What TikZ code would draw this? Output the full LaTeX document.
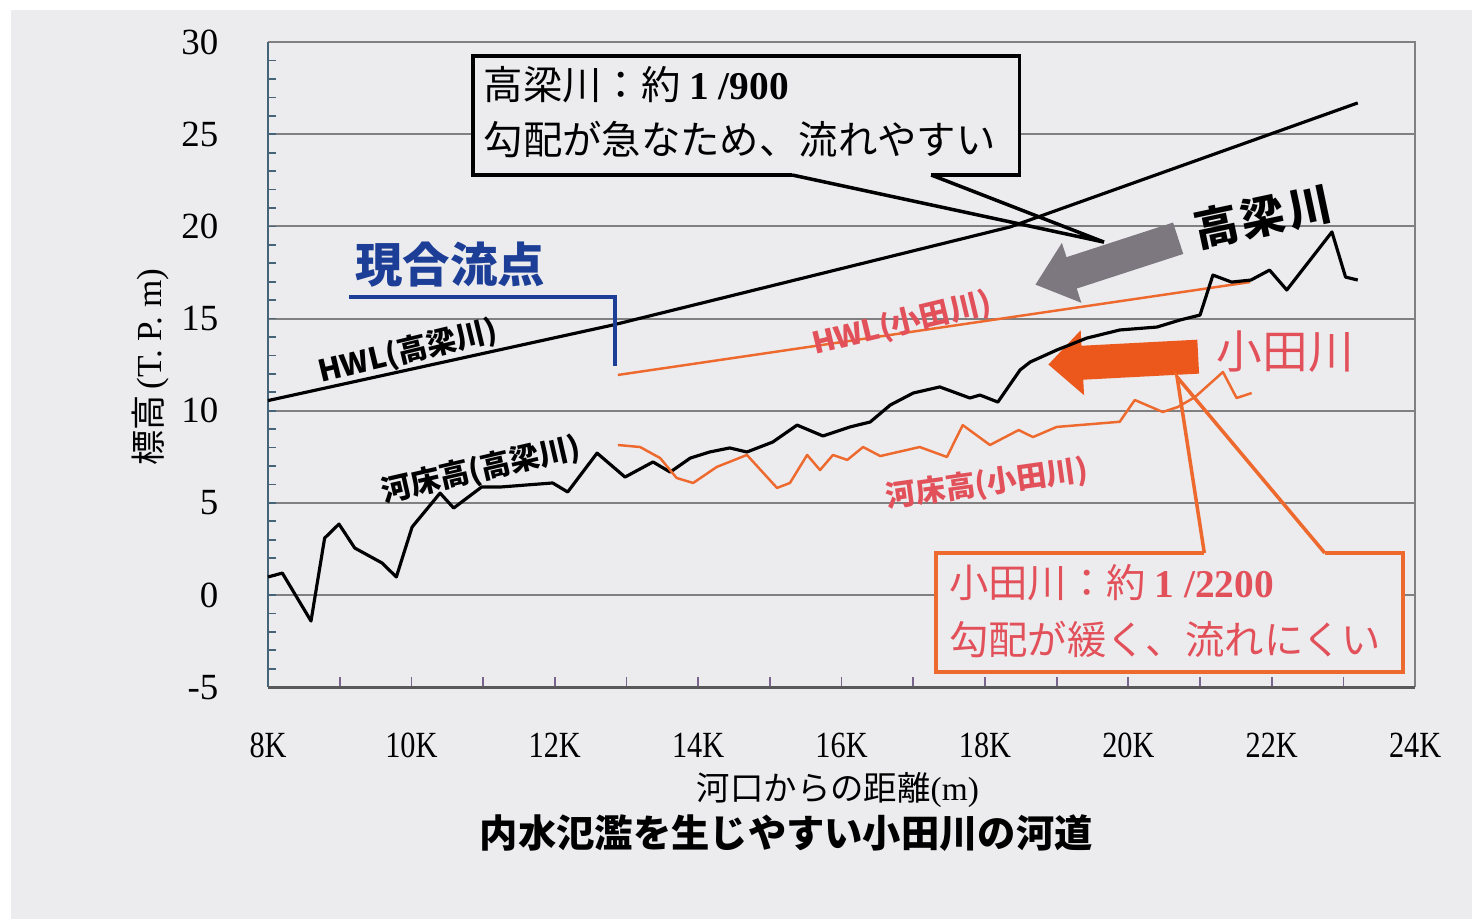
\documentclass[tikz,border=0pt]{standalone}
\usepackage{fontspec}
\setmainfont{Liberation Serif}
\newfontfamily\jp{Noto Sans CJK JP}
\newfontfamily\tickfont{Liberation Serif}[FakeStretch=0.82]
\usetikzlibrary{positioning}

\definecolor{bgc}{RGB}{236,235,238}
\definecolor{gridc}{RGB}{128,128,128}
\definecolor{axisc}{RGB}{70,100,120}
\definecolor{tickc}{RGB}{120,100,140}
\definecolor{odaline}{RGB}{238,105,45}
\definecolor{odatext}{RGB}{226,80,90}
\definecolor{mergeblue}{RGB}{28,62,150}
\definecolor{arrowgray}{RGB}{125,120,128}
\definecolor{arroworange}{RGB}{236,88,28}

\begin{document}
\begin{tikzpicture}[x=0.7169cm, y=0.1843cm,
    grid line/.style={draw=gridc, line width=0.55pt},
    kbed/.style={draw=black, line width=0.9pt, line join=round},
    oline/.style={draw=odaline, line width=0.7pt, line join=round},
    callout/.style={line width=1pt, fill=bgc, line join=miter},
    boxtext/.style={anchor=west, inner sep=0pt, font=\jp\fontsize{11.2}{14}\selectfont},
    curve label/.style={inner sep=0pt, font=\jp\bfseries\fontsize{8.5}{10}\selectfont}]

% Page
\useasboundingbox (4.262,-17.58) rectangle (24.794,32.284);
\fill[white] (4.262,-17.58) rectangle (24.794,32.284);
\fill[bgc] (4.415,-17.58) rectangle (24.794,31.74);

% Grid and axes
\foreach \v in {0,5,...,25}
  \draw[grid line] (8,\v) -- (24,\v);
\draw[grid line] (8,30) -- (24,30) -- (24,-5);
\foreach \v in {-4,...,29}
  \draw[axisc, line width=0.5pt] (8,\v) -- (8.11,\v);
\foreach \k in {9,...,23}
  \draw[tickc, line width=0.5pt] (\k,-5) -- (\k,-4.46);
\draw[axisc, line width=0.8pt] (8,-5) -- (8,30);
\draw[black!65, line width=0.8pt] (8,-5) -- (24,-5);

% Tick labels
\foreach \v in {-5,0,...,30}
  \node[anchor=east, inner sep=0pt, font=\fontsize{10.5}{12}\selectfont] (ylab\v) at (7.316,\v) {\v};
\foreach \k in {8,10,...,24}
  \node[inner sep=0pt, font=\tickfont\fontsize{10.5}{12}\selectfont] (xlab\k) at (\k,-8.14) {\k K};

% Axis titles and caption
\node[rotate=90, inner sep=0pt, font=\fontsize{10}{12}\selectfont] (ytitle) at (6.354,12.37) {{\jp 標高}\,(T.\ P.\ m)};
\node[inner sep=0pt, font=\fontsize{9.5}{12}\selectfont] (xtitle) at (15.95,-10.58) {{\jp 河口からの距離}(m)};
\node[inner sep=0pt, font=\jp\bfseries\fontsize{10.9}{13}\selectfont] (caption) at (15.23,-12.91) {内水氾濫を生じやすい小田川の河道};

% Flow arrows
\begin{scope}[shift={(19.70,18.10)}, x=1cm, y=1cm, rotate=198]
  \fill[arrowgray] (-0.75,-0.165) -- (0.37,-0.165) -- (0.37,-0.315) -- (0.75,0)
    -- (0.37,0.315) -- (0.37,0.165) -- (-0.75,0.165) -- cycle;
\end{scope}
\begin{scope}[shift={(19.93,12.72)}, x=1cm, y=1cm, rotate=183]
  \fill[arroworange] (-0.75,-0.17) -- (0.41,-0.17) -- (0.41,-0.325) -- (0.75,0)
    -- (0.41,0.325) -- (0.41,0.17) -- (-0.75,0.17) -- cycle;
\end{scope}

% HWL lines
\draw[kbed] (8,10.55) -- (12.81,14.65) -- (18.35,19.97) -- (23.2,26.7);
\draw[oline] (12.88,11.94) -- (21.70,16.98);

% Riverbed, Takahashi
\draw[kbed] plot coordinates {(8.0,0.98) (8.20,1.19) (8.60,-1.41) (8.79,3.09) (8.99,3.85)
  (9.21,2.55) (9.59,1.74) (9.79,0.98) (10.01,3.69) (10.40,5.53) (10.59,4.72) (10.98,5.86)
  (11.24,5.86) (11.97,6.08) (12.18,5.59) (12.59,7.70) (12.98,6.40) (13.37,7.22) (13.61,6.67)
  (13.89,7.43) (14.16,7.76) (14.44,7.98) (14.68,7.76) (15.04,8.30) (15.38,9.22) (15.74,8.63)
  (16.12,9.12) (16.40,9.39) (16.68,10.31) (17.00,10.96) (17.37,11.29) (17.79,10.69)
  (17.93,10.85) (18.18,10.47) (18.49,12.21) (18.63,12.64) (19.00,13.29) (19.42,13.94)
  (19.88,14.38) (20.40,14.54) (20.72,14.92) (21.00,15.19) (21.18,17.36) (21.44,16.98)
  (21.71,17.09) (21.97,17.63) (22.21,16.55) (22.84,19.70) (23.03,17.25) (23.20,17.09)};

% Riverbed, Oda
\draw[oline] plot coordinates {(12.88,8.14) (13.19,8.03) (13.47,7.43) (13.70,6.35) (13.93,6.08)
  (14.26,6.95) (14.68,7.60) (15.10,5.81) (15.28,6.08) (15.52,7.60) (15.70,6.78) (15.88,7.60)
  (16.08,7.33) (16.30,8.03) (16.54,7.54) (17.09,8.03) (17.47,7.49) (17.69,9.22) (18.07,8.14)
  (18.47,8.95) (18.67,8.57) (19.00,9.12) (19.88,9.40) (20.09,10.58) (20.48,9.93) (20.69,10.20)
  (20.93,10.74) (21.32,12.10) (21.51,10.69) (21.72,10.96)};

% Confluence mark
\coordinate (mergeL) at (9.13,16.17);
\coordinate (mergeC) at (12.84,16.17);
\coordinate (mergeE) at (12.84,12.43);
\draw[mergeblue, line width=1pt] (mergeL) -- (mergeC) -- (mergeE);
\node[text=mergeblue, inner sep=0pt, font=\jp\bfseries\fontsize{13.5}{16}\selectfont] (merge) at (10.54,17.91) {現合流点};

% Callout, Takahashi
\coordinate (kTip) at (19.66,19.15);
\coordinate (kLegA) at (15.31,22.79);
\coordinate (kLegB) at (17.25,22.79);
\draw[callout] (kLegA) -- (10.86,22.79) -- (10.86,29.25) -- (18.48,29.25) -- (18.48,22.79) -- (kLegB);
\draw[line width=1pt] (kLegA) -- (kTip) -- (kLegB);
\node[boxtext] (kLine1) at (11.0,27.67) {高梁川：約 {\rmfamily\bfseries 1 /900}};
\node[boxtext] (kLine2) at (11.0,24.69) {勾配が急なため、流れやすい};

% Callout, Oda
\coordinate (oTip) at (20.68,11.83);
\coordinate (oLegA) at (21.06,2.28);
\coordinate (oLegB) at (22.74,2.28);
\draw[callout, draw=odaline] (oLegA) -- (17.32,2.28) -- (17.32,-4.18) -- (23.83,-4.18) -- (23.83,2.28) -- (oLegB);
\draw[odaline, line width=1pt] (oLegA) -- (oTip) -- (oLegB);
\node[boxtext, text=odatext] (oLine1) at (17.49,0.65) {小田川：約 {\rmfamily\bfseries 1 /2200}};
\node[boxtext, text=odatext] (oLine2) at (17.49,-2.44) {勾配が緩く、流れにくい};

% Curve labels
\node[curve label, rotate=13.5] (hwlK) at (9.95,13.19) {HWL(高梁川)};
\node[curve label, rotate=13.5, text=odatext] (hwlO) at (16.84,14.70) {HWL(小田川)};
\node[curve label, rotate=13] (bedK) at (10.97,6.78) {河床高(高梁川)};
\node[curve label, rotate=8, text=odatext] (bedO) at (18.03,6.02) {河床高(小田川)};

% River names
\node[rotate=12, inner sep=0pt, font=\jp\bfseries\fontsize{12.6}{15}\selectfont] (kName) at (21.88,20.51) {高\kern0.08em 梁\kern0.08em 川};
\node[text=odatext, inner sep=0pt, font=\jp\fontsize{13}{15}\selectfont] (oName) at (22.19,13.19) {小田川};
\end{tikzpicture}
\end{document}
